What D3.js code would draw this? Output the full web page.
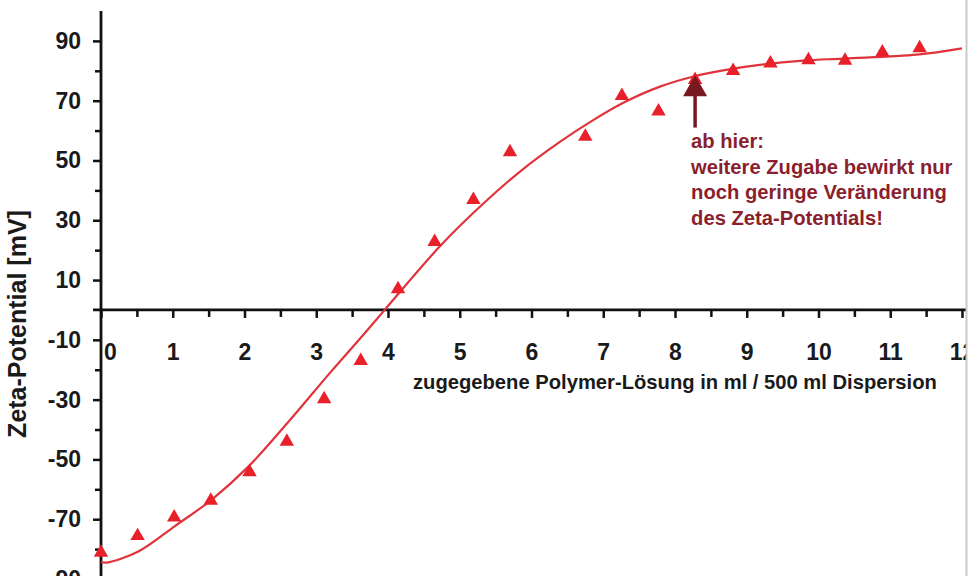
<!DOCTYPE html>
<html>
<head>
<meta charset="utf-8">
<script src="https://cdn.jsdelivr.net/npm/d3@7"></script>
<style>
  html, body { margin: 0; padding: 0; background: #fff; }
  svg { display: block; }
  text { font-family: "Liberation Sans", Arial, Helvetica, sans-serif; font-weight: bold; }
</style>
</head>
<body>
<script>
// ---- data ----
const dataX = [0, 0.51, 1.02, 1.53, 2.07, 2.59, 3.11, 3.62, 4.14, 4.65, 5.19, 5.70, 6.75, 7.26, 7.77, 8.28, 8.81, 9.33, 9.86, 10.37, 10.89, 11.41];
const dataY = [-81.2, -75.6, -69.4, -63.8, -54.2, -44, -29.8, -17, 7, 22.8, 36.8, 52.8, 58, 71.6, 66.4, 77, 80, 82.5, 83.6, 83.4, 86.2, 87.6];

const fitX = [0, 0.08, 0.52, 1.03, 1.54, 2.05, 2.61, 3.2, 3.66, 3.96, 4.72, 5.28, 5.84, 6.4, 6.86, 7.28, 7.79, 8.26, 8.81, 9.18, 9.79, 10.35, 11.37, 12.0];
const fitY = [-84.2, -84.5, -80.8, -72.3, -63.5, -52.5, -37.5, -20.8, -8.2, 0.2, 21.2, 34.5, 46.3, 56.3, 63.5, 69.3, 74.7, 78.1, 80.7, 82.0, 83.4, 84.1, 85.4, 87.5];

const xTickLabels = ["0","1","2","3","4","5","6","7","8","9","10","11","12"];
const xTickValues = [0,1,2,3,4,5,6,7,8,9,10,11,12];
const xMinorTicks = [0.5,1.5,2.5,3.5,4.5,5.5,6.5,7.5,8.5,9.5,10.5,11.5];
const yTickValues = [90, 70, 50, 30, 10, -10, -30, -50, -70, -90];
const yTickLabels = ["90","70","50","30","10","-10","-30","-50","-70","-90"];
const yMinorTicks = [80, 60, 40, 20, -20, -40, -60, -80];

const xTitle = "zugegebene Polymer-Lösung in ml / 500 ml Dispersion";
const yTitle = "Zeta-Potential [mV]";
const noteLines = ["ab hier:", "weitere Zugabe bewirkt nur", "noch geringe Veränderung", "des Zeta-Potentials!"];
const arrowX = 8.28;
const arrowTipY = 78.5;
const arrowTailY = 61;

// ---- layout ----
const W = 973, H = 576;
const x = d3.scaleLinear().domain([0, 12]).range([101, 962]);
const y = d3.scaleLinear().domain([-90, 100]).range([579, 11]);

const svg = d3.select("body").append("svg").attr("width", W).attr("height", H);
svg.append("defs").append("clipPath").attr("id", "clip")
  .append("rect").attr("x", 0).attr("y", 0).attr("width", 966).attr("height", H);
const g = svg.append("g").attr("clip-path", "url(#clip)");

const FONT = '"Liberation Sans", Arial, sans-serif';

// Y axis (labeled ticks)
const yAxis = d3.axisLeft(y).tickValues(yTickValues).tickSize(8).tickPadding(12)
  .tickFormat((d, i) => yTickLabels[i]);
const yg = g.append("g").attr("transform", `translate(${x(0)},0)`).call(yAxis);
yg.select(".domain").remove();
yg.selectAll(".tick line").attr("stroke", "#111").attr("stroke-width", 2.5);
yg.selectAll(".tick text").attr("font-size", 23).attr("font-weight", "bold")
  .attr("fill", "#1a1a1a").attr("font-family", FONT);
// Y minor ticks
const ym = g.append("g").attr("transform", `translate(${x(0)},0)`)
  .call(d3.axisLeft(y).tickValues(yMinorTicks).tickSize(6).tickFormat(""));
ym.select(".domain").remove();
ym.selectAll(".tick line").attr("stroke", "#111").attr("stroke-width", 2.5);
// Y axis line
g.append("line").attr("x1", x(0)).attr("x2", x(0)).attr("y1", y(100)).attr("y2", H + 5)
  .attr("stroke", "#111").attr("stroke-width", 2.8);

// X axis (at y = 0)
const xAxis = d3.axisBottom(x).tickValues(xTickValues).tickSize(8).tickPadding(26)
  .tickFormat((d, i) => xTickLabels[i]);
const xg = g.append("g").attr("transform", `translate(0,${y(0)})`).call(xAxis);
xg.select(".domain").remove();
xg.selectAll(".tick line").attr("stroke", "#111").attr("stroke-width", 2.5);
xg.selectAll(".tick text").attr("font-size", 23).attr("font-weight", "bold")
  .attr("fill", "#1a1a1a").attr("font-family", FONT)
  .attr("dx", d => d === 0 ? 9 : 0);
const xm = g.append("g").attr("transform", `translate(0,${y(0)})`)
  .call(d3.axisBottom(x).tickValues(xMinorTicks).tickSize(7).tickFormat(""));
xm.select(".domain").remove();
xm.selectAll(".tick line").attr("stroke", "#111").attr("stroke-width", 2.5);
g.append("line").attr("x1", x(0) - 8).attr("x2", x(12) + 5).attr("y1", y(0)).attr("y2", y(0))
  .attr("stroke", "#111").attr("stroke-width", 2.8);

// Axis titles
g.append("text").attr("x", 413).attr("y", 389).attr("font-size", 20.2)
  .attr("fill", "#1a1a1a").text(xTitle);
g.append("text").attr("transform", "translate(26,324) rotate(-90)").attr("text-anchor", "middle")
  .attr("font-size", 25).attr("fill", "#1a1a1a").text(yTitle);

// Fit curve
const line = d3.line().x(d => x(d[0])).y(d => y(d[1])).curve(d3.curveCatmullRom.alpha(0.5));
g.append("path").datum(fitX.map((v, i) => [v, fitY[i]]))
  .attr("d", line).attr("fill", "none").attr("stroke", "#e0333b").attr("stroke-width", 2.2);

// Data triangles
g.selectAll(".pt").data(dataX.map((v, i) => [v, dataY[i]])).enter().append("path")
  .attr("class", "pt")
  .attr("transform", d => `translate(${x(d[0])},${y(d[1])})`)
  .attr("d", d3.symbol().type(d3.symbolTriangle).size(90))
  .attr("fill", "#e8202a");

// Arrow annotation
const ax = x(arrowX), tipY = y(arrowTipY), tailY = y(arrowTailY);
g.append("line").attr("x1", ax).attr("x2", ax).attr("y1", tailY).attr("y2", tipY + 15)
  .attr("stroke", "#7a1822").attr("stroke-width", 3.5);
g.append("path").attr("d", `M${ax},${tipY} L${ax - 12},${tipY + 21} L${ax + 12},${tipY + 21} Z`)
  .attr("fill", "#7a1822");

const note = g.append("text").attr("font-size", 20.2).attr("fill", "#8a1f2d");
noteLines.forEach((t, i) => {
  note.append("tspan").attr("x", ax - 4).attr("y", 148 + i * 25.5).text(t);
});

// right frame line
svg.append("line").attr("x1", 966.5).attr("x2", 966.5).attr("y1", 0).attr("y2", H)
  .attr("stroke", "#c9c9c9").attr("stroke-width", 2);
</script>
</body>
</html>
